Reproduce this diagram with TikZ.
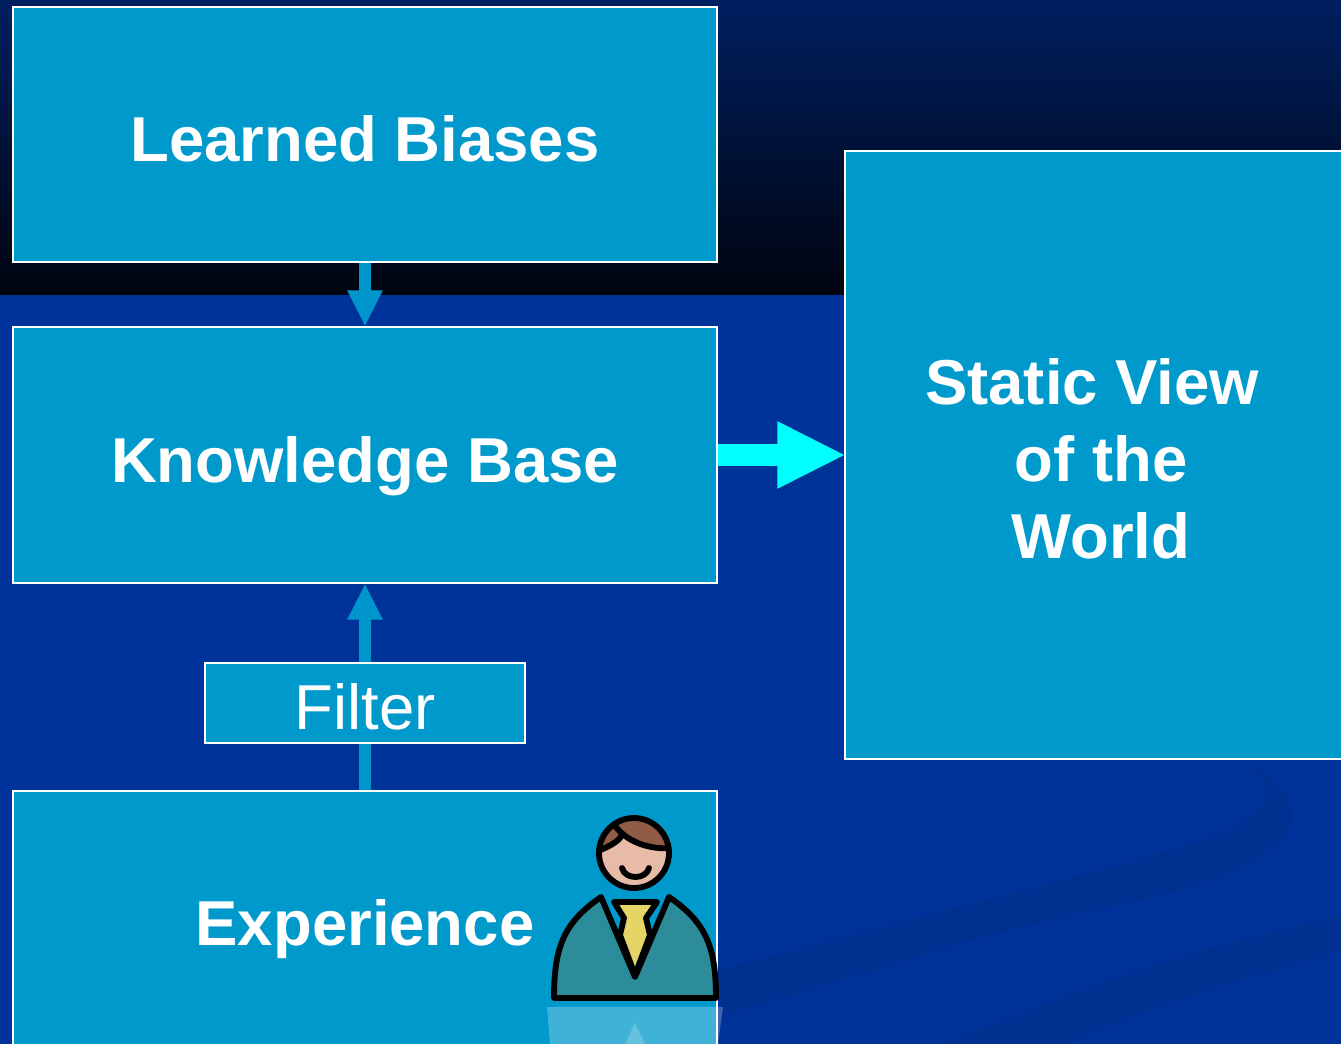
\documentclass[tikz,border=0pt]{standalone}
\usepackage{fontspec}
\setmainfont{Liberation Sans}
\usetikzlibrary{arrows.meta}
\definecolor{boxblue}{HTML}{0099CC}
\definecolor{linkblue}{HTML}{0096CB}
\definecolor{linkcyan}{HTML}{00FFFF}
\definecolor{bgblue}{HTML}{003399}
\definecolor{bgtop}{HTML}{001F60}
\definecolor{bgbottom}{HTML}{00040F}
\definecolor{swoosh}{HTML}{003090}
\definecolor{hair}{HTML}{915C45}
\definecolor{face}{HTML}{E8BAA8}
\definecolor{jacket}{HTML}{2D8C99}
\definecolor{tie}{HTML}{E5D566}
\tikzstyle{bigbox} = [rectangle, minimum width = 528pt, minimum height = 191.25pt, align = center, text height = 40.5pt, text depth = 0pt, draw=white, line width = 1.5pt, fill = boxblue, text = white, font = \fontsize{47.6}{57.75}\selectfont\bfseries]
\tikzstyle{filterbox} = [rectangle, minimum width = 240pt, minimum height = 60pt, align = center, text height = 39pt, text depth = 0pt, draw=white, line width = 1.5pt, fill = boxblue, text = white, font = \fontsize{47.6}{57.75}\selectfont]
\tikzstyle{arrow1} = [line width = 9pt, linkblue, -{Triangle[length = 27pt, width = 24.5pt]}]
\tikzstyle{arrow2} = [line width = 17pt, linkcyan, shorten > = -1.5pt, -{Triangle[length = 51.5pt, width = 46.5pt]}]
\tikzstyle{outline} = [draw=black, line width = 4.4pt, line join = round, line cap = round]

\begin{document}
\begin{tikzpicture}[x = 0.75pt, y = -0.75pt, node distance = 240pt]
\useasboundingbox (0,0) rectangle (1341,1044);
\fill[bgblue] (0,0) rectangle (1341,1044);
\fill[top color = bgtop, bottom color = bgbottom] (0,0) rectangle (1341,295);
\fill[swoosh] (1237,762) .. controls (1275,775) and (1293,795) .. (1293,817) .. controls (1290,845) and (1235,880) .. (1150,897) .. controls (1080,915) and (1000,930) .. (945,948) -- (720,1017) -- (718,970) -- (843,937) .. controls (930,915) and (1010,895) .. (1088,873) .. controls (1200,843) and (1266,825) .. (1266,790) .. controls (1266,778) and (1250,768) .. (1237,762) -- cycle;
\fill[swoosh] (1341,915) .. controls (1260,935) and (1180,955) .. (1109,980) -- (941,1044) -- (1068,1044) .. controls (1150,1005) and (1250,975) .. (1341,952) -- cycle;
\node (learned) [bigbox] at (365,135) {Learned Biases};
\node (knowledge) [bigbox, below of = learned] {Knowledge Base};
\node (experience) [bigbox, below of = knowledge, yshift = -107.5pt] {Experience};
\node (static) [bigbox, minimum width = 384pt, minimum height = 456pt, text height = 154.5pt] at (1101,455) {Static View\hspace{0.28em}\mbox{}\\of the\\World};
\draw[arrow1] (learned) -- (knowledge);
\draw[arrow1] (experience) -- (knowledge);
\draw[arrow2] (knowledge) -- (static);
\node (filter) [filterbox] at (365,703) {Filter};
\fill[white, opacity = 0.25] (547,1007) -- (723,1007) -- (718,1044) -- (550,1044) -- cycle;
\fill[white, opacity = 0.2] (635,1023) -- (625,1044) -- (645,1044) -- cycle;
\filldraw[outline, fill = tie] (614,902) -- (657,902) -- (646,918) -- (650,935) -- (635,975) -- (620,935) -- (624,918) -- cycle;
\filldraw[outline, fill = jacket] (554,998) .. controls (554,945) and (565,922) .. (601,897) -- (635,977) -- (669,897) .. controls (705,922) and (716,945) .. (716,998) -- cycle;
\fill[face] (634,853) circle [radius = 35];
\begin{scope}
\clip (634,853) circle [radius = 35];
\fill[hair] (601,850) .. controls (610,846) and (618,842) .. (622,835) .. controls (640,850) and (655,850) .. (672,848) -- (672,815) -- (595,815) -- cycle;
\draw[outline] (598,851) .. controls (610,846) and (618,842) .. (622,835);
\draw[outline] (613,823) .. controls (625,842) and (650,850) .. (672,848);
\end{scope}
\draw[outline] (634,853) circle [radius = 35];
\draw[outline] (622,868) .. controls (625,880) and (646,880) .. (649,868);
\end{tikzpicture}
\end{document}
